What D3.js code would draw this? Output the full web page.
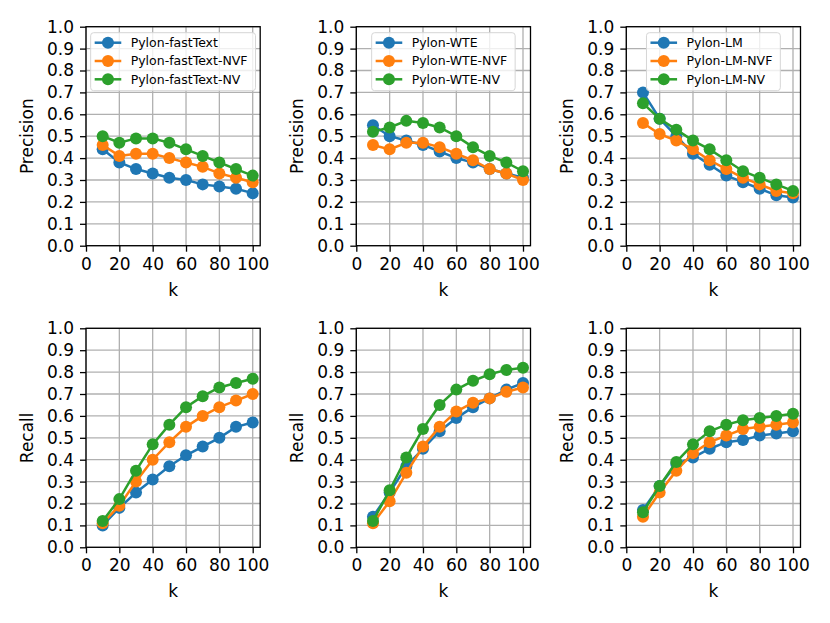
<!DOCTYPE html>
<html>
<head>
<meta charset="utf-8">
<script src="https://cdn.jsdelivr.net/npm/d3@7"></script>
<style>
  body { margin: 0; background: #fff; }
  text { font-family: "DejaVu Sans", sans-serif; fill: #000; }
</style>
</head>
<body>
<script>
var W = 830, H = 623;

var kValues = [10, 20, 30, 40, 50, 60, 70, 80, 90, 100];
var xTicks = [0, 20, 40, 60, 80, 100];
var yTicks = [0.0, 0.1, 0.2, 0.3, 0.4, 0.5, 0.6, 0.7, 0.8, 0.9, 1.0];
var colors = ["#1f77b4", "#ff7f0e", "#2ca02c"];

// precision, top row
var precFastText    = [0.44, 0.38, 0.35, 0.33, 0.31, 0.30, 0.28, 0.27, 0.26, 0.24];
var precFastTextNVF = [0.46, 0.41, 0.42, 0.42, 0.40, 0.38, 0.36, 0.33, 0.31, 0.29];
var precFastTextNV  = [0.50, 0.47, 0.49, 0.49, 0.47, 0.44, 0.41, 0.38, 0.35, 0.32];

var precWTE    = [0.55, 0.50, 0.48, 0.46, 0.43, 0.40, 0.38, 0.35, 0.33, 0.31];
var precWTENVF = [0.46, 0.44, 0.47, 0.47, 0.45, 0.42, 0.39, 0.35, 0.33, 0.30];
var precWTENV  = [0.52, 0.54, 0.57, 0.56, 0.54, 0.50, 0.45, 0.41, 0.38, 0.34];

var precLM    = [0.70, 0.58, 0.50, 0.42, 0.37, 0.32, 0.29, 0.26, 0.23, 0.22];
var precLMNVF = [0.56, 0.51, 0.48, 0.44, 0.39, 0.35, 0.31, 0.28, 0.25, 0.24];
var precLMNV  = [0.65, 0.58, 0.53, 0.48, 0.44, 0.39, 0.34, 0.31, 0.28, 0.25];

// recall, bottom row
var recFastText    = [0.10, 0.18, 0.25, 0.31, 0.37, 0.42, 0.46, 0.50, 0.55, 0.57];
var recFastTextNVF = [0.11, 0.19, 0.30, 0.40, 0.48, 0.55, 0.60, 0.64, 0.67, 0.70];
var recFastTextNV  = [0.12, 0.22, 0.35, 0.47, 0.56, 0.64, 0.69, 0.73, 0.75, 0.77];

var recWTE    = [0.14, 0.25, 0.37, 0.45, 0.53, 0.59, 0.64, 0.68, 0.72, 0.75];
var recWTENVF = [0.11, 0.21, 0.34, 0.46, 0.55, 0.62, 0.66, 0.68, 0.71, 0.73];
var recWTENV  = [0.12, 0.26, 0.41, 0.54, 0.65, 0.72, 0.76, 0.79, 0.81, 0.82];

var recLM    = [0.17, 0.28, 0.38, 0.41, 0.45, 0.48, 0.49, 0.51, 0.52, 0.53];
var recLMNVF = [0.14, 0.25, 0.35, 0.43, 0.48, 0.51, 0.54, 0.55, 0.56, 0.57];
var recLMNV  = [0.16, 0.28, 0.39, 0.47, 0.53, 0.56, 0.58, 0.59, 0.60, 0.61];

var namesFastText = ["Pylon-fastText", "Pylon-fastText-NVF", "Pylon-fastText-NV"];
var namesWTE = ["Pylon-WTE", "Pylon-WTE-NVF", "Pylon-WTE-NV"];
var namesLM = ["Pylon-LM", "Pylon-LM-NVF", "Pylon-LM-NV"];

var panels = [
  { col: 0, row: 0, ylabel: "Precision", names: namesFastText, series: [precFastText, precFastTextNVF, precFastTextNV] },
  { col: 1, row: 0, ylabel: "Precision", names: namesWTE, series: [precWTE, precWTENVF, precWTENV] },
  { col: 2, row: 0, ylabel: "Precision", names: namesLM, series: [precLM, precLMNVF, precLMNV] },
  { col: 0, row: 1, ylabel: "Recall", series: [recFastText, recFastTextNVF, recFastTextNV] },
  { col: 1, row: 1, ylabel: "Recall", series: [recWTE, recWTENVF, recWTENV] },
  { col: 2, row: 1, ylabel: "Recall", series: [recLM, recLMNVF, recLMNV] }
];

var colLeft = [86, 356.3, 626.3];
var rowTop = [26.7, 328.3];
var pw = 174.2, ph = 219;
var fontSize = "17px";
var markerR = 6;

var svg = d3.select("body").append("svg")
    .attr("width", W)
    .attr("height", H);

panels.forEach(function (p) {
  var g = svg.append("g")
      .attr("transform", "translate(" + colLeft[p.col] + "," + rowTop[p.row] + ")");

  var x = d3.scaleLinear().domain([0, 104.5]).range([0, pw]);
  var y = d3.scaleLinear().domain([0, 1]).range([ph, 0]);

  // grid
  g.append("g").selectAll("line").data(xTicks).enter().append("line")
      .attr("x1", function (d) { return x(d); })
      .attr("x2", function (d) { return x(d); })
      .attr("y1", 0).attr("y2", ph)
      .attr("stroke", "#b0b0b0").attr("stroke-width", 1.3);
  g.append("g").selectAll("line").data(yTicks).enter().append("line")
      .attr("y1", function (d) { return y(d); })
      .attr("y2", function (d) { return y(d); })
      .attr("x1", 0).attr("x2", pw)
      .attr("stroke", "#b0b0b0").attr("stroke-width", 1.3);

  // axes
  var xAxis = d3.axisBottom(x).tickValues(xTicks).tickSize(6).tickPadding(6)
      .tickFormat(d3.format("d"));
  var yAxis = d3.axisLeft(y).tickValues(yTicks).tickSize(6).tickPadding(6)
      .tickFormat(d3.format(".1f"));

  var gx = g.append("g").attr("transform", "translate(0," + ph + ")").call(xAxis);
  var gy = g.append("g").call(yAxis);
  [gx, gy].forEach(function (a) {
    a.attr("font-size", null).attr("font-family", null);
    a.select(".domain").remove();
    a.selectAll(".tick line").attr("stroke", "#000").attr("stroke-width", 1.3);
    a.selectAll(".tick text").style("font-size", fontSize).attr("fill", "#000");
  });

  // series
  var line = d3.line()
      .x(function (d, i) { return x(kValues[i]); })
      .y(function (d) { return y(d); });

  p.series.forEach(function (s, si) {
    g.append("path")
        .datum(s)
        .attr("d", line)
        .attr("fill", "none")
        .attr("stroke", colors[si])
        .attr("stroke-width", 2.5);
    g.append("g").selectAll("circle").data(s).enter().append("circle")
        .attr("cx", function (d, i) { return x(kValues[i]); })
        .attr("cy", function (d) { return y(d); })
        .attr("r", markerR)
        .attr("fill", colors[si]);
  });

  // frame
  g.append("rect")
      .attr("width", pw).attr("height", ph)
      .attr("fill", "none").attr("stroke", "#000").attr("stroke-width", 1.3);

  // labels
  g.append("text")
      .attr("x", pw / 2)
      .attr("y", ph + 50)
      .attr("text-anchor", "middle")
      .style("font-size", fontSize)
      .text("k");
  g.append("text")
      .attr("transform", "translate(-53," + (ph / 2) + ") rotate(-90)")
      .attr("text-anchor", "middle")
      .style("font-size", fontSize)
      .text(p.ylabel);

  // legend
  if (p.names) {
    var lg = g.append("g");
    var box = lg.append("rect")
        .attr("rx", 3).attr("ry", 3)
        .attr("fill", "#fff").attr("fill-opacity", 0.8)
        .attr("stroke", "#d6d6d6").attr("stroke-width", 1);
    var maxW = 0;
    p.names.forEach(function (n, i) {
      var cy = 10 + i * 18.3;
      lg.append("line")
          .attr("x1", 4).attr("x2", 30.6)
          .attr("y1", cy).attr("y2", cy)
          .attr("stroke", colors[i]).attr("stroke-width", 2.5);
      lg.append("circle")
          .attr("cx", 17.3).attr("cy", cy).attr("r", markerR)
          .attr("fill", colors[i]);
      var t = lg.append("text")
          .attr("x", 40).attr("y", cy + 4.5)
          .style("font-size", "12.5px")
          .text(n);
      maxW = Math.max(maxW, t.node().getComputedTextLength());
    });
    var bw = 40 + maxW + 8;
    box.attr("width", bw).attr("height", 58);
    lg.attr("transform", "translate(" + ((pw - bw) / 2) + ",6)");
  }
});
</script>
</body>
</html>
